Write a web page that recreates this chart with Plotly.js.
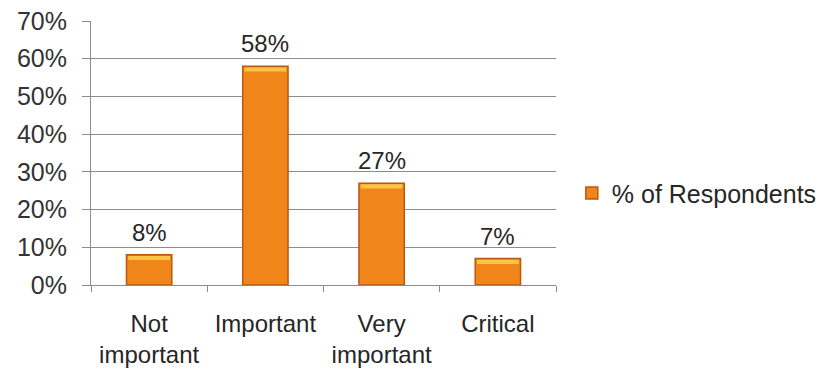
<!DOCTYPE html>
<html>
<head>
<meta charset="utf-8">
<script src="https://cdn.plot.ly/plotly-3.0.1.min.js"></script>
<style>
  html, body { margin: 0; padding: 0; background: #ffffff; }
  #chart { width: 834px; height: 371px; }
</style>
</head>
<body>
<div id="chart"></div>
<script>
// Importance ratings, share of respondents
const categories = ['Not<br>important', 'Important', 'Very<br>important', 'Critical'];
const shares = [0.08, 0.58, 0.27, 0.07];
const shareLabels = ['8%', '58%', '27%', '7%'];
const seriesName = '% of Respondents';

const FONT = 'Liberation Sans, Arial, sans-serif';
const TEXT = '#262626';

const mainBars = {
  type: 'bar',
  name: seriesName,
  x: categories,
  y: shares,
  width: 0.39,
  marker: { color: '#F08519', line: { color: '#B85A16', width: 1.5 } },
  hoverinfo: 'x+y'
};

// lighter band across the top of each bar
const topGlow = {
  type: 'bar',
  x: categories,
  y: shares.map(() => 0.011),
  base: shares.map(v => v - 0.014),
  width: 0.36,
  marker: { color: '#FFCB4A', line: { width: 0 } },
  opacity: 0.9,
  showlegend: false,
  hoverinfo: 'skip'
};

const valueNotes = categories.map((c, i) => ({
  x: c,
  y: shares[i],
  xref: 'x',
  yref: 'y',
  text: shareLabels[i],
  showarrow: false,
  yanchor: 'bottom',
  yshift: 7,
  font: { family: FONT, size: 24, color: TEXT }
}));

const layout = {
  width: 834,
  height: 371,
  margin: { l: 91, r: 278, t: 21, b: 86 },
  paper_bgcolor: '#ffffff',
  plot_bgcolor: '#ffffff',
  barmode: 'overlay',
  font: { family: FONT, color: TEXT },
  xaxis: {
    type: 'category',
    showgrid: false,
    showline: true,
    linecolor: '#8c8c8c',
    linewidth: 1,
    ticks: 'outside',
    tickson: 'boundaries',
    ticklen: 6,
    tickcolor: '#8c8c8c',
    tickfont: { family: FONT, size: 24, color: TEXT },
    ticklabelstandoff: 17,
    fixedrange: true
  },
  yaxis: {
    range: [0, 0.7],
    dtick: 0.1,
    tick0: 0,
    tickformat: '.0%',
    showgrid: true,
    gridcolor: '#8c8c8c',
    gridwidth: 1,
    showline: true,
    linecolor: '#8c8c8c',
    linewidth: 1,
    ticks: 'outside',
    ticklen: 8,
    tickcolor: '#8c8c8c',
    tickfont: { family: FONT, size: 25, color: '#333333' },
    ticklabelstandoff: 10,
    zeroline: false,
    fixedrange: true
  },
  legend: {
    x: 1.034,
    xanchor: 'left',
    y: 0.348,
    yanchor: 'middle',
    font: { family: FONT, size: 25, color: TEXT },
    bgcolor: 'rgba(0,0,0,0)'
  },
  showlegend: true,
  annotations: valueNotes
};

Plotly.newPlot('chart', [mainBars, topGlow], layout, { displayModeBar: false, staticPlot: true });
</script>
</body>
</html>
